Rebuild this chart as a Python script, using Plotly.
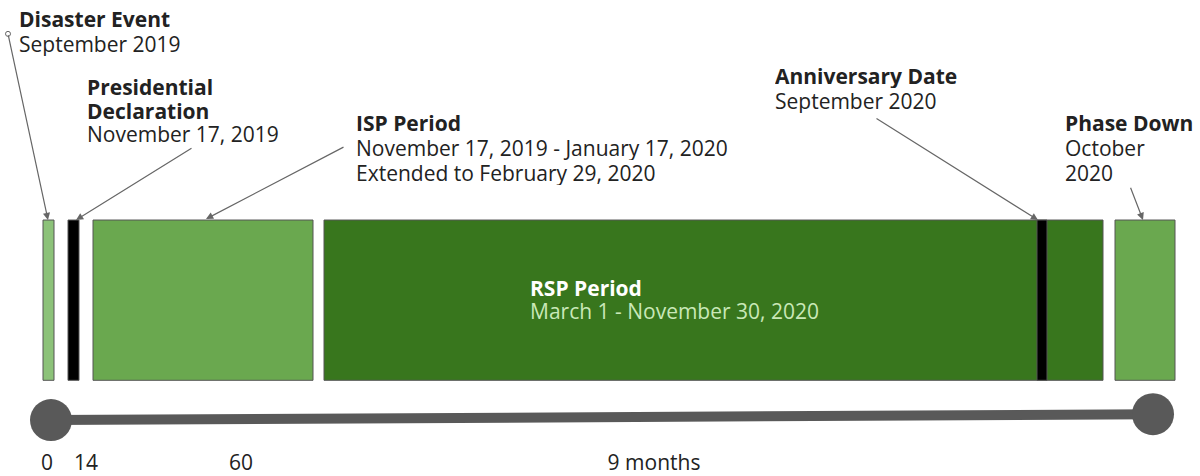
import plotly.graph_objects as go

# ---- data ----
segment_names = ["Disaster Event", "Presidential Declaration", "ISP Period",
                 "RSP Period", "Anniversary Date", "Phase Down"]
segment_start = [43, 68, 93, 324, 1037, 1115]
segment_end = [54, 79, 313, 1103, 1047, 1175]
segment_colors = ["#8cc279", "#000000", "#6aa84f", "#38761d", "#000000", "#6aa84f"]

tick_labels = ["0", "14", "60", "9 months"]
tick_positions = [47, 86, 241, 654]

timeline_x = [51, 1153]
timeline_y = [422, 416]

FONT = "Open Sans"
TXT = "#222222"
FS = 21

fig = go.Figure()

# bars (horizontal, sharing one row)
bar_top, bar_bottom = 221, 382
for name, s, e, c in zip(segment_names, segment_start, segment_end, segment_colors):
    fig.add_trace(go.Bar(
        y=[(bar_top + bar_bottom) / 2], x=[e - s], base=[s], orientation="h",
        width=[bar_bottom - bar_top], marker=dict(color=c, line=dict(color="#555555", width=1)),
        name=name, showlegend=False, hoverinfo="name"))

# timeline
fig.add_trace(go.Scatter(x=timeline_x, y=timeline_y, mode="lines+markers",
                         line=dict(color="#595959", width=10),
                         marker=dict(size=42, color="#595959"),
                         showlegend=False, hoverinfo="skip"))

def label(x, ys, lines, color=TXT):
    for y, t in zip(ys, lines):
        fig.add_annotation(x=x, y=y, xref="x", yref="y", text=t, showarrow=False,
                           xanchor="left", yanchor="middle", align="left",
                           height=24, borderpad=0, valign="middle",
                           font=dict(family=FONT, size=FS, color=color))

def arrow(x0, y0, x1, y1):
    fig.add_annotation(x=x1, y=y1, ax=x0, ay=y0, xref="x", yref="y", axref="x", ayref="y",
                       text="", showarrow=True, arrowhead=2, arrowsize=1.2, arrowwidth=1.2,
                       arrowcolor="#666666")

label(18, [19, 44], ["<b>Disaster Event</b>", "September 2019"])
label(86, [87, 111, 135], ["<b>Presidential</b>", "<b>Declaration</b>", "November 17, 2019"])
label(355, [124, 149, 174], ["<b>ISP Period</b>", "November 17, 2019 - January 17, 2020",
                             "Extended to February 29, 2020"])
label(774, [76, 101], ["<b>Anniversary Date</b>", "September 2020"])
label(1064, [124, 149, 174], ["<b>Phase Down</b>", "October", "2020"])
label(529, [289], ["<b>RSP Period</b>"], color="#ffffff")
label(529, [312], ["March 1 - November 30, 2020"], color="#c9e8b8")

arrow(8, 34, 48, 221)
arrow(193, 148, 76, 221)
arrow(345, 147, 206, 220)
arrow(875, 118, 1038, 221)
arrow(1130, 187, 1143, 221)
fig.add_trace(go.Scatter(x=[8], y=[34], mode="markers",
                         marker=dict(size=5, color="white", line=dict(color="#666666", width=1)),
                         showlegend=False, hoverinfo="skip"))

fig.update_layout(
    width=1200, height=476, margin=dict(l=0, r=0, t=0, b=26),
    plot_bgcolor="white", paper_bgcolor="white", barmode="overlay",
    xaxis=dict(range=[0, 1200], showgrid=False, zeroline=False, showline=False,
               tickvals=tick_positions, ticktext=tick_labels, ticks="",
               tickfont=dict(family=FONT, size=FS, color=TXT), fixedrange=True),
    yaxis=dict(range=[450, 0], visible=False, fixedrange=True),
)

fig.write_html("out.html", config={"displayModeBar": False},
               post_script="document.body.style.margin='0';")
